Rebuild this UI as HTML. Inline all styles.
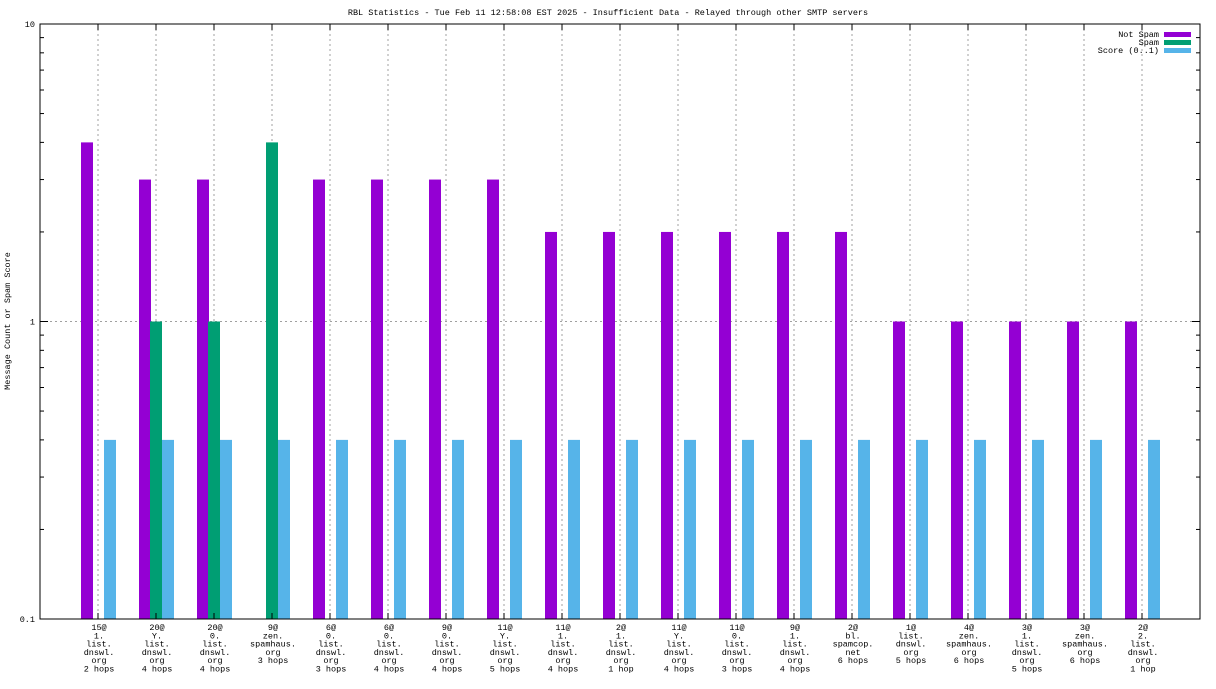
<!DOCTYPE html>
<html><head><meta charset="utf-8"><style>
body{margin:0;background:#fff;}
svg text{font-family:"Liberation Mono","DejaVu Sans Mono",monospace;font-size:8.5px;fill:#000;}
</style></head><body>
<svg id="chart" width="1216" height="684" xmlns="http://www.w3.org/2000/svg">
<text x="608" y="15" text-anchor="middle">RBL Statistics - Tue Feb 11 12:58:08 EST 2025 - Insufficient Data - Relayed through other SMTP servers</text>
<text transform="translate(10,321) rotate(-90)" text-anchor="middle">Message Count or Spam Score</text>
<g id="grid"></g><g id="bars"></g><g id="axes"></g><g id="labels"></g>
<g>
<text x="1159" y="37" text-anchor="end">Not Spam</text>
<rect x="1164" y="32" width="27" height="5" fill="#9400d3"/>
<text x="1159" y="45" text-anchor="end">Spam</text>
<rect x="1164" y="40" width="27" height="5" fill="#009e73"/>
<text x="1159" y="53" text-anchor="end">Score (0..1)</text>
<rect x="1164" y="48" width="27" height="5" fill="#56b4e9"/>
</g>
</svg>
<script>
const categories=[["15@","1.","list.","dnswl.","org","2 hops"],["20@","Y.","list.","dnswl.","org","4 hops"],["20@","0.","list.","dnswl.","org","4 hops"],["9@","zen.","spamhaus.","org","3 hops"],["6@","0.","list.","dnswl.","org","3 hops"],["6@","0.","list.","dnswl.","org","4 hops"],["9@","0.","list.","dnswl.","org","4 hops"],["11@","Y.","list.","dnswl.","org","5 hops"],["11@","1.","list.","dnswl.","org","4 hops"],["2@","1.","list.","dnswl.","org","1 hop"],["11@","Y.","list.","dnswl.","org","4 hops"],["11@","0.","list.","dnswl.","org","3 hops"],["9@","1.","list.","dnswl.","org","4 hops"],["2@","bl.","spamcop.","net","6 hops"],["1@","list.","dnswl.","org","5 hops"],["4@","zen.","spamhaus.","org","6 hops"],["3@","1.","list.","dnswl.","org","5 hops"],["3@","zen.","spamhaus.","org","6 hops"],["2@","2.","list.","dnswl.","org","1 hop"]];
const notSpam=[4,3,3,0,3,3,3,3,2,2,2,2,2,2,1,1,1,1,1];
const spam=[0,1,1,4,0,0,0,0,0,0,0,0,0,0,0,0,0,0,0];
const score=[0.4,0.4,0.4,0.4,0.4,0.4,0.4,0.4,0.4,0.4,0.4,0.4,0.4,0.4,0.4,0.4,0.4,0.4,0.4];
const yTicks=[0.1,1,10];
const yTickLabels=["0.1","1","10"];
const L=40,R=1200,T=24,B=619;
const NS="http://www.w3.org/2000/svg";
function y(v){return B-(Math.log10(v)+1)/2*(B-T);}
function xc(i){return L+(R-L)/(categories.length+1)*(i+1);}
function mk(tag,attrs,parent){const e=document.createElementNS(NS,tag);for(const k in attrs)e.setAttribute(k,attrs[k]);document.getElementById(parent).appendChild(e);return e;}
const bw=12;
categories.forEach((c,i)=>{
 const cx=xc(i);
 const g=mk('line',{x1:cx,x2:cx,y1:T,y2:B,stroke:'#a0a0a0','stroke-dasharray':'2,3'},'grid');
 
 
 [[notSpam[i],-17,'#9400d3','bar-not-spam'],[spam[i],-6,'#009e73','bar-spam'],[score[i],6,'#56b4e9','bar-score']].forEach(([v,off,col,nm])=>{
  if(v>0.1){const r=mk('rect',{x:cx+off,y:y(v),width:bw,height:B-y(v),fill:col},'bars');
  
  }
 });
 const t1=mk('line',{x1:cx,x2:cx,y1:B,y2:B-6,stroke:'#000'},'axes');
 
 
 const t2=mk('line',{x1:cx,x2:cx,y1:T,y2:T+6,stroke:'#000'},'axes');
 
 
 c.forEach((s,k)=>{const t=mk('text',{x:cx+1,y:630+k*8.3,'text-anchor':'middle'},'labels');t.textContent=s;
  
  });
});
const gl=mk('line',{x1:L,x2:R,y1:y(1),y2:y(1),stroke:'#a0a0a0','stroke-dasharray':'2,3'},'grid');


const fr=mk('rect',{x:L,y:T,width:R-L,height:B-T,fill:'none',stroke:'#000'},'axes');


yTicks.forEach((v,i)=>{
 const t=mk('text',{x:L-5,y:y(v)+3,'text-anchor':'end'},'labels');t.textContent=yTickLabels[i];
 
 
 if(i<yTicks.length-1){for(let m=2;m<=9;m++){const yy=y(v*m);
  const a=mk('line',{x1:L,x2:L+4,y1:yy,y2:yy,stroke:'#000'},'axes');
  
  
  const b=mk('line',{x1:R,x2:R-4,y1:yy,y2:yy,stroke:'#000'},'axes');
  
  }}
 const a=mk('line',{x1:L,x2:L+8,y1:y(v),y2:y(v),stroke:'#000'},'axes');
 
 
 const b=mk('line',{x1:R,x2:R-8,y1:y(v),y2:y(v),stroke:'#000'},'axes');
 
 
});
</script>
</body></html>
